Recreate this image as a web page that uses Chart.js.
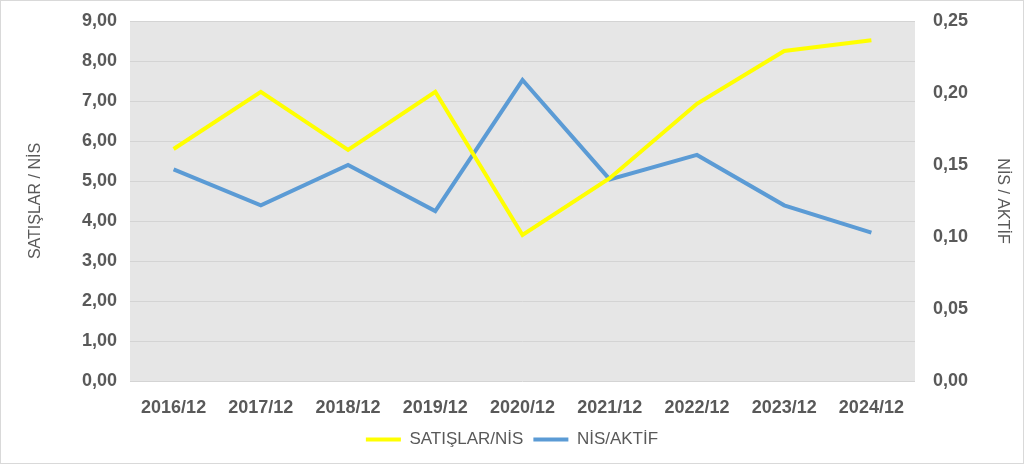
<!DOCTYPE html>
<html>
<head>
<meta charset="utf-8">
<script src="https://cdn.jsdelivr.net/npm/chart.js@4/dist/chart.umd.min.js"></script>
<style>
  html, body { margin: 0; padding: 0; background: #fff; }
  #wrap { width: 1024px; height: 467px; }
</style>
</head>
<body>
<div id="wrap"><canvas id="lineChart" width="1024" height="467"></canvas></div>
<script>
const years = ['2016/12', '2017/12', '2018/12', '2019/12', '2020/12', '2021/12', '2022/12', '2023/12', '2024/12']
const satislarNis = [5.80, 7.23, 5.78, 7.23, 3.65, 5.07, 6.93, 8.25, 8.52]
const nisAktif = [0.147, 0.122, 0.150, 0.118, 0.209, 0.140, 0.157, 0.122, 0.103]

const fontFam = "'Liberation Sans', Arial, sans-serif"
const grey = '#595959'
const comma = v => Number(v).toFixed(2).replace('.', ',')

// plot area fill + outer frame
const frame = {
    id: 'frame',
    beforeDraw(chart) {
        const { ctx, chartArea: a } = chart
        ctx.save()
        ctx.fillStyle = '#e6e6e6'
        ctx.fillRect(a.left, a.top, a.right - a.left, a.bottom - a.top)
        ctx.restore()
    },
    afterDraw(chart) {
        const ctx = chart.ctx
        ctx.save()
        ctx.strokeStyle = '#d9d9d9'
        ctx.lineWidth = 1
        ctx.strokeRect(0.5, 0.5, chart.width - 1, chart.height - 4)
        ctx.restore()
    }
}

Chart.defaults.font.family = fontFam
Chart.defaults.color = grey

const fitY = w => s => { s.width = w; s.paddingTop = 0; s.paddingBottom = 0 }

new Chart(document.getElementById('lineChart').getContext('2d'), {
    type: 'line',
    data: {
        labels: years,
        datasets: [{
            label: 'SATIŞLAR/NİS',
            data: satislarNis,
            borderColor: '#ffff00',
            backgroundColor: '#ffff00',
            borderWidth: 4,
            pointRadius: 0,
            yAxisID: 'y'
        }, {
            label: 'NİS/AKTİF',
            data: nisAktif,
            borderColor: '#5b9bd5',
            backgroundColor: '#5b9bd5',
            borderWidth: 4,
            pointRadius: 0,
            yAxisID: 'y1'
        }]
    },
    options: {
        responsive: false,
        animation: false,
        layout: { padding: { top: 21, bottom: 9, left: 0, right: 0 } },
        scales: {
            x: {
                offset: true,
                grid: { display: false },
                border: { display: false },
                ticks: { font: { size: 18, weight: 'bold' }, color: grey, padding: 8, maxRotation: 0 },
                afterFit: s => { s.height = 40; s.paddingLeft = 0; s.paddingRight = 0 }
            },
            y: {
                position: 'left',
                min: 0, max: 9,
                ticks: { stepSize: 1, callback: comma, font: { size: 18, weight: 'bold' }, color: grey, padding: 13 },
                grid: { color: '#d4d4d4', lineWidth: 1, drawTicks: false },
                border: { display: false },
                title: { display: true, text: 'SATIŞLAR / NİS', font: { size: 16 }, color: grey, padding: { top: 26, bottom: 0 } },
                afterFit: fitY(130)
            },
            y1: {
                position: 'right',
                min: 0, max: 0.25,
                ticks: { stepSize: 0.05, callback: comma, font: { size: 18, weight: 'bold' }, color: grey, padding: 18 },
                grid: { display: false, drawTicks: false },
                border: { display: false },
                title: { display: true, text: 'NİS / AKTİF', font: { size: 16 }, color: grey, padding: { top: 12, bottom: 0 } },
                afterFit: fitY(109)
            }
        },
        plugins: {
            legend: {
                position: 'bottom',
                labels: {
                    boxWidth: 35,
                    boxHeight: 4,
                    color: grey,
                    padding: 10,
                    font: { size: 17 },
                    generateLabels: chart => Chart.defaults.plugins.legend.labels.generateLabels(chart)
                        .map(l => Object.assign(l, { lineWidth: 0, strokeStyle: l.fillStyle }))
                }
            },
            tooltip: { enabled: false }
        }
    },
    plugins: [frame]
})
</script>
</body>
</html>
